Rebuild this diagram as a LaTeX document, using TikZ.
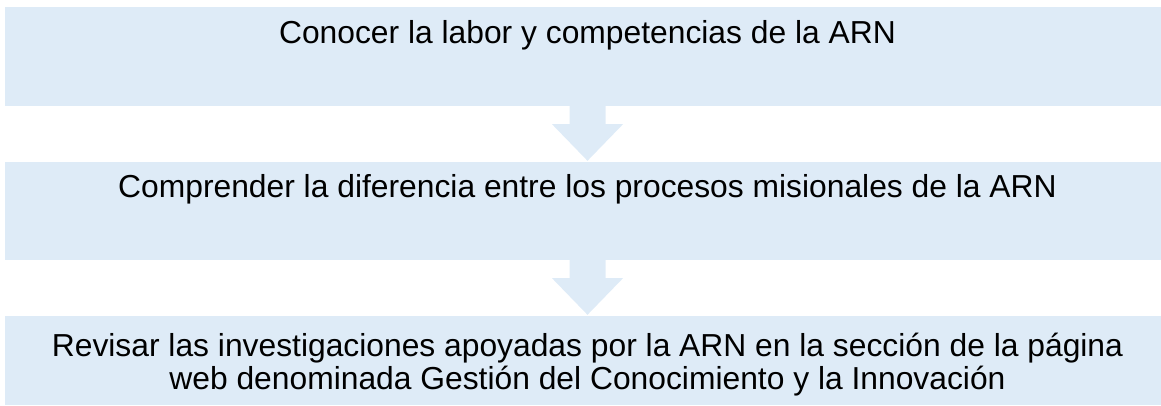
\documentclass[tikz,border=0pt]{standalone}
\usepackage{fontspec}
\setmainfont{Liberation Sans}
\usepackage{tikz}
\usetikzlibrary{calc}
\definecolor{boxblue}{RGB}{222,235,247}

\begin{document}
\begin{tikzpicture}[x=1pt, y=-1pt,
    stage/.style={rectangle, fill=boxblue, inner sep=0, minimum width=1165pt},
    stagetext/.style={inner sep=0, align=center,
      font=\fontsize{31.8}{33}\selectfont}]
    \useasboundingbox (0,0) rectangle (1161,406);

    % boxes
    \node[stage, minimum height=99pt] (know) at (587.5, 56.5) {};
    \node[stage, minimum height=98pt] (grasp) at (587.5, 211) {};
    \node[stage, minimum height=89pt] (review) at (587.5, 360.5) {};

    % texts (base = last line)
    \node[stagetext, anchor=base] (knowtext) at ($(know.north)+(0,36.5)$)
      {Conocer la labor y competencias de la ARN};
    \node[stagetext, anchor=base] (grasptext) at ($(grasp.north)+(0,35.5)$)
      {Comprender la diferencia entre los procesos misionales de la ARN};
    \node[stagetext, anchor=base] (reviewtext) at ($(review.north)+(0,74)$)
      {Revisar las investigaciones apoyadas por la ARN en la secci\'on de la p\'agina\\
       web denominada Gesti\'on del Conocimiento y la Innovaci\'on};

    % block arrows
    \foreach \from/\to in {know/grasp, grasp/review}
      \fill[boxblue]
        ($(\from.south)+(-18,0)$) -- ($(\from.south)+(18,0)$) --
        ($(\from.south)+(18,18)$) -- ($(\from.south)+(35.5,18)$) --
        ($(\to.north)+(0,-1)$) --
        ($(\from.south)+(-35.5,18)$) -- ($(\from.south)+(-18,18)$) -- cycle;
  \end{tikzpicture}
\end{document}
